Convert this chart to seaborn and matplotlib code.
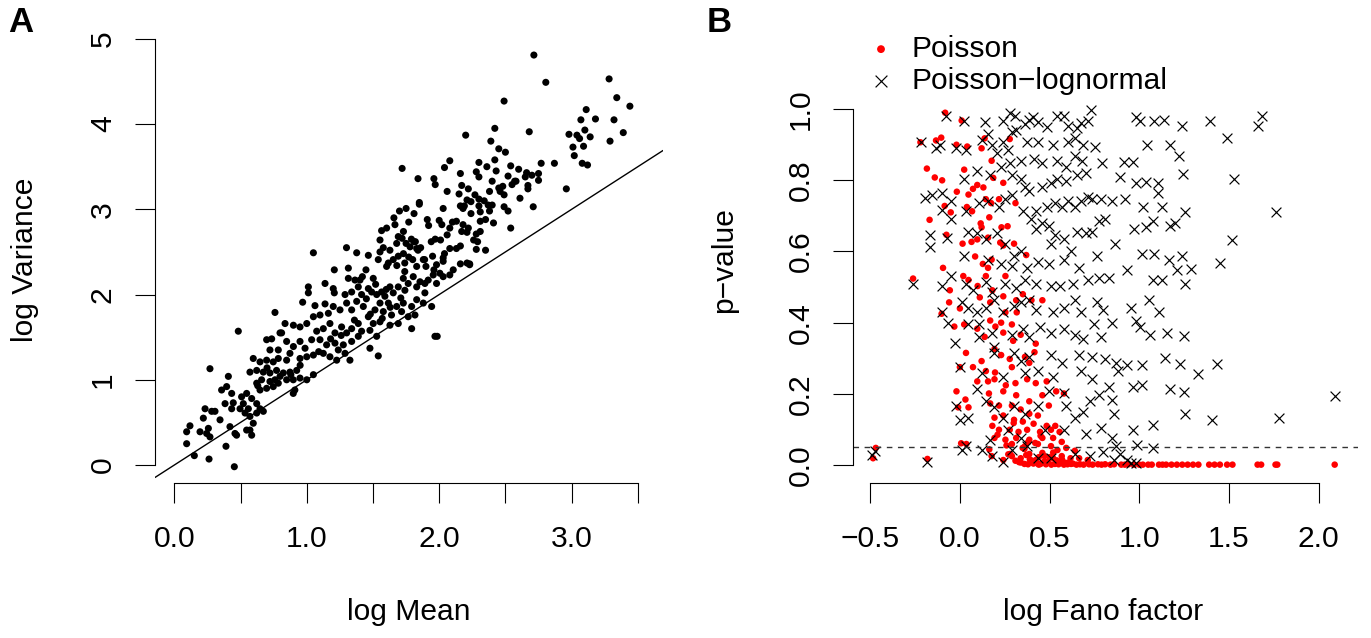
import numpy as np
import pandas as pd
import matplotlib
matplotlib.use("Agg")
import matplotlib.pyplot as plt
import seaborn as sns

# ---------------- Panel A data: log Mean vs log Variance ----------------
log_mean = [
 2.715,2.805,3.283,3.341,3.44,2.49,3.11,3.07,3.18,3.32,2.42,2.68,2.20,2.98,3.04,3.10,3.06,3.14,3.39,3.29,
 2.39,3.01,3.09,3.02,3.08,3.12,2.87,2.96,2.45,2.50,2.42,2.30,2.08,2.04,1.72,2.77,2.54,2.60,2.36,2.28,
 2.43,2.16,2.66,2.70,2.75,2.65,2.75,2.52,2.57,1.84,1.96,1.97,2.17,2.30,2.40,2.45,2.48,2.55,2.58,2.67,
 2.67,2.06,2.22,2.15,2.38,2.46,2.49,2.27,2.61,2.71,1.85,1.85,1.75,1.70,1.81,2.03,2.16,2.21,2.19,2.24,
 2.30,2.30,2.34,2.37,2.40,2.38,2.31,2.24,2.18,2.52,2.49,1.77,1.91,2.00,1.92,2.10,2.02,2.13,2.18,2.22,
 2.31,2.35,2.41,2.54,1.73,1.79,1.81,1.83,1.97,2.08,2.01,2.06,2.17,2.21,2.28,2.31,2.26,2.29,2.08,2.13,
 2.16,2.28,2.35,2.04,2.03,1.95,1.89,2.21,2.23,1.72,1.75,1.78,1.82,1.84,1.73,1.77,1.80,1.74,1.83,1.88,
 1.90,1.98,2.03,1.96,2.16,2.23,
 1.05,1.30,1.377,1.465,1.565,1.603,1.658,1.666,1.553,1.578,1.628,1.54,1.553,1.679,1.653,1.603,1.616,1.691,1.691,1.208,
 1.314,1.447,1.502,1.402,1.314,1.364,1.012,1.012,1.138,1.20,0.969,1.062,1.138,1.208,1.289,1.339,1.389,1.414,1.465,1.49,
 1.528,1.565,1.59,1.628,1.653,1.691,1.729,1.741,1.766,1.804,1.83,1.855,1.892,1.917,1.955,1.98,2.005,2.03,2.08,2.106,
 1.892,1.88,1.943,1.83,1.792,1.817,1.766,1.792,1.968,1.985,1.729,1.679,1.616,1.553,1.515,1.578,1.64,1.716,1.691,1.628,
 1.553,1.502,1.465,1.427,1.377,1.339,1.301,1.251,1.20,1.163,1.10,1.05,1.00,0.949,0.899,0.836,0.81,0.848,0.899,0.949,
 0.987,1.037,1.075,1.125,1.175,1.213,1.263,1.301,1.339,1.389,1.414,1.477,1.528,1.389,1.339,1.276,1.213,1.15,1.10,1.238,
 1.289,1.175,1.125,1.05,1.00,0.949,0.873,0.848,1.326,1.226,1.477,1.54,
 0.76,0.483,0.269,0.798,0.697,0.735,0.785,0.722,0.596,0.647,0.697,0.747,0.785,0.571,0.622,0.672,0.722,0.772,0.823,0.873,
 0.924,0.949,1.00,1.05,0.898,0.848,0.798,0.76,0.722,0.659,0.622,0.647,0.697,0.747,0.785,0.898,0.91,0.508,0.546,0.584,
 0.622,0.647,0.672,0.622,0.571,0.596,0.571,0.584,0.546,0.496,0.521,0.559,0.534,0.433,0.42,0.458,0.47,0.395,0.408,0.357,
 0.433,0.383,0.345,0.307,0.282,0.232,0.219,0.257,0.244,0.269,0.194,0.118,0.093,0.093,0.151,0.262,0.39,0.453,0.445,
 1.45,1.52,1.60,1.68,1.74,1.57,1.63,1.71,1.48,1.36,1.26,1.18,1.09,0.95,0.88,0.70,0.63,1.42,1.86,1.94,
]
log_var = [
 4.81,4.49,4.53,4.31,4.21,4.27,4.17,4.05,4.06,4.05,3.95,3.91,3.87,3.88,3.87,3.93,3.83,3.85,3.90,3.80,
 3.80,3.73,3.74,3.63,3.54,3.52,3.54,3.24,3.71,3.67,3.58,3.55,3.57,3.49,3.48,3.54,3.51,3.47,3.50,3.44,
 3.45,3.42,3.43,3.40,3.42,3.38,3.34,3.39,3.33,3.36,3.36,3.29,3.28,3.38,3.33,3.25,3.27,3.29,3.33,3.28,
 3.24,3.21,3.24,3.18,3.21,3.21,3.17,3.17,3.13,3.03,3.08,3.06,3.01,2.98,2.95,3.01,3.04,3.11,3.04,3.09,
 3.12,3.04,3.10,3.05,3.05,2.98,2.97,2.95,3.01,2.98,3.03,2.85,2.88,2.87,2.81,2.85,2.82,2.86,2.82,2.78,
 2.86,2.88,2.84,2.78,2.74,2.65,2.62,2.54,2.65,2.78,2.64,2.70,2.74,2.73,2.71,2.74,2.64,2.62,2.54,2.54,
 2.57,2.53,2.52,2.48,2.43,2.45,2.41,2.37,2.35,2.66,2.60,2.56,2.62,2.52,2.48,2.44,2.41,2.37,2.33,2.41,
 2.33,2.35,2.39,2.29,2.36,2.36,
 2.49,2.55,2.49,2.46,2.75,2.78,2.90,2.82,2.64,2.55,2.52,2.41,2.50,2.60,2.41,2.33,2.37,2.45,2.68,2.29,
 2.31,2.29,2.19,2.17,2.19,2.17,2.09,2.02,2.13,2.07,1.91,1.87,1.89,2.02,2.00,2.03,2.09,2.00,2.07,2.03,
 2.00,2.03,1.98,2.09,2.02,2.09,2.19,2.05,2.13,2.21,2.09,2.15,2.13,2.17,2.23,2.13,2.25,2.21,2.23,2.29,
 2.02,1.90,1.86,1.94,1.86,1.76,1.74,1.60,1.51,1.51,1.90,1.86,1.90,1.90,1.82,1.80,1.76,1.80,1.66,1.64,
 1.68,1.66,1.74,1.86,1.92,1.82,1.90,1.82,1.86,1.78,1.76,1.74,1.66,1.62,1.64,1.66,1.55,1.45,1.39,1.45,
 1.37,1.47,1.57,1.60,1.66,1.55,1.62,1.55,1.60,1.66,1.57,1.58,1.51,1.51,1.45,1.41,1.43,1.41,1.47,1.35,
 1.31,1.27,1.31,1.29,1.27,1.25,1.31,1.23,1.23,1.23,1.37,1.28,
 1.79,1.57,1.13,1.55,1.47,1.48,1.35,1.35,1.25,1.21,1.23,1.21,1.25,1.09,1.11,1.09,1.08,1.11,1.08,1.09,
 1.11,1.02,1.00,1.06,1.00,1.00,1.04,1.00,0.98,1.00,0.96,0.88,0.90,0.92,0.96,0.84,0.88,0.80,0.84,0.78,
 0.72,0.66,0.63,0.61,0.57,0.49,0.41,0.35,0.41,0.66,0.72,0.66,0.61,0.66,0.45,0.37,0.35,0.92,1.04,0.88,
 0.84,0.72,0.53,0.63,0.63,0.66,0.55,0.43,0.37,0.33,0.39,0.46,0.39,0.25,0.11,0.07,0.22,-0.02,0.73,
 1.95,2.12,2.06,2.34,2.27,1.72,1.85,1.96,1.77,1.70,1.52,1.48,1.33,1.17,1.06,1.14,0.93,2.21,2.55,2.62,
]

# ---------------- Panel B data: log Fano factor vs p-value ----------------
pois_fano = [
 -0.082,0.010,-0.22,-0.133,-0.104,-0.019,0.041,0.121,0.177,0.138,0.278,-0.184,-0.14,-0.099,0.024,-0.017,0.048,0.073,0.097,0.131,
 0.186,0.242,0.145,0.174,0.218,0.31,-0.085,-0.051,-0.169,0.039,0.068,0.116,0.164,0.121,0.232,0.266,-0.075,0.015,0.065,0.097,
 0.157,0.225,0.242,0.302,0.37,0.085,0.128,0.177,0.157,0.254,0.145,0.019,0.048,-0.094,-0.261,-0.056,0.099,0.181,0.242,0.314,
 0.351,0.399,0.46,-0.06,0.111,0.169,0.254,0.317,-0.102,0.0,0.169,0.198,0.23,0.29,-0.031,0.024,0.097,0.138,0.242,0.339,
 0.297,0.423,0.193,0.23,0.278,0.363,0.034,0.121,0.416,0.0,0.073,0.145,0.196,0.29,0.387,0.097,0.157,0.193,0.256,0.31,
 0.375,0.423,0.484,-0.019,0.031,0.162,0.242,0.314,0.387,0.46,0.537,0.58,-0.01,0.048,0.169,0.218,0.29,0.339,0.387,0.435,
 0.496,0.193,0.242,0.302,0.351,0.411,0.484,0.532,0.181,0.218,0.278,0.327,0.375,0.447,0.508,0.556,0.193,0.254,0.314,0.387,
 0.46,0.52,0.568,0.007,0.036,0.164,0.29,0.363,0.435,0.508,0.544,0.593,0.641,-0.484,-0.469,-0.181,0.177,0.242,0.29,0.339,
 0.387,0.423,0.472,0.52,0.568,0.617,0.665,0.713,0.33,0.47,0.56,0.27,0.40,0.61,0.52,0.44,0.36,0.58,
 0.36,0.38,0.41,0.44,0.45,0.48,0.51,0.53,0.55,0.58,0.60,0.62,0.65,0.67,0.69,0.72,0.74,0.77,0.79,0.81,
 0.84,0.86,0.90,0.92,0.94,0.97,1.00,1.02,1.05,1.07,1.11,1.13,1.15,1.18,1.21,1.24,1.27,1.30,1.33,1.39,
 1.42,1.45,1.49,1.52,1.66,1.68,1.76,1.77,2.09,
 0.31,0.34,0.39,0.43,0.49,0.54,0.59,0.63,0.28,0.37,0.46,0.50,0.26,0.35,0.42,0.57,0.21,0.30,0.38,0.45,
]
pois_p = [
 0.99,0.968,0.907,0.912,0.92,0.90,0.895,0.89,0.855,0.918,0.916,0.833,0.808,0.80,0.83,0.768,0.76,0.776,0.787,0.78,
 0.807,0.793,0.747,0.736,0.747,0.736,0.728,0.71,0.689,0.725,0.713,0.679,0.696,0.668,0.668,0.671,0.647,0.622,0.627,0.634,
 0.639,0.625,0.617,0.622,0.59,0.586,0.565,0.577,0.554,0.531,0.531,0.531,0.52,0.554,0.524,0.491,0.503,0.491,0.474,0.463,
 0.48,0.463,0.463,0.457,0.471,0.457,0.429,0.429,0.425,0.44,0.406,0.389,0.40,0.395,0.389,0.395,0.383,0.36,0.372,0.366,
 0.349,0.341,0.326,0.309,0.298,0.304,0.315,0.292,0.317,0.275,0.275,0.264,0.26,0.275,0.287,0.235,0.235,0.241,0.224,0.23,
 0.241,0.23,0.235,0.207,0.184,0.201,0.207,0.196,0.179,0.196,0.207,0.201,0.162,0.162,0.173,0.167,0.167,0.156,0.144,0.139,
 0.167,0.133,0.139,0.127,0.122,0.116,0.11,0.11,0.11,0.099,0.099,0.093,0.099,0.093,0.099,0.093,0.076,0.071,0.076,0.071,
 0.076,0.076,0.065,0.061,0.059,0.044,0.059,0.053,0.059,0.053,0.042,0.048,0.040,0.019,0.048,0.017,0.025,0.014,0.025,0.019,
 0.031,0.014,0.025,0.019,0.025,0.019,0.019,0.014,0.008,0.010,0.006,0.030,0.012,0.008,0.035,0.022,0.045,0.004,
 0.003,0.002,0.004,0.001,0.003,0.002,0.001,0.003,0.002,0.001,0.002,0.003,0.001,0.002,0.001,0.002,0.001,0.002,0.001,0.002,
 0.001,0.002,0.001,0.001,0.002,0.001,0.001,0.001,0.001,0.001,0.001,0.001,0.001,0.001,0.001,0.001,0.001,0.001,0.001,0.001,
 0.001,0.001,0.001,0.001,0.001,0.001,0.001,0.001,0.001,
 0.012,0.007,0.016,0.005,0.009,0.013,0.006,0.004,0.031,0.028,0.034,0.022,0.055,0.048,0.062,0.015,0.085,0.118,0.064,0.082,
]
pln_fano = [
 -0.08,0.024,0.138,0.242,0.278,0.31,0.363,0.387,0.406,0.435,0.484,0.544,0.58,0.605,0.653,0.677,0.713,0.73,0.98,1.004,
 1.081,1.137,1.238,1.395,1.487,1.664,1.686,
 -0.218,-0.133,-0.109,-0.024,0.036,0.121,0.157,0.181,0.242,0.206,0.29,0.314,0.375,0.435,0.52,0.605,0.641,0.689,0.755,1.045,
 1.173,1.221,0.271,0.278,0.339,0.411,0.46,0.544,0.593,0.641,0.682,0.793,0.914,0.967,1.243,
 -0.193,-0.157,-0.097,-0.048,0.024,0.097,0.169,0.23,0.29,0.339,0.363,0.387,0.46,0.508,0.544,0.593,0.653,0.701,0.895,0.98,
 1.04,1.106,1.106,1.528,-0.097,-0.048,0.036,0.109,0.157,0.218,0.254,0.29,0.351,0.423,0.484,0.532,0.568,0.605,0.641,0.677,
 0.713,0.737,0.785,0.846,0.919,1.02,1.126,1.258,1.76,
 -0.169,-0.164,-0.072,0.024,0.048,0.097,0.145,0.206,0.254,0.302,0.339,0.399,0.423,0.46,0.496,0.532,0.508,0.58,0.617,0.653,
 0.701,0.737,0.774,0.81,0.866,0.972,1.04,1.076,1.173,1.197,1.016,1.083,1.164,1.24,1.519,0.157,0.23,0.29,0.375,0.435,
 0.496,0.58,0.665,0.762,0.931,1.209,1.287,1.451,
 -0.261,-0.097,-0.048,0.036,0.073,0.145,0.181,0.254,0.314,0.363,0.423,0.508,0.556,0.629,0.713,0.774,0.829,1.076,1.126,1.258,
 -0.097,-0.068,0.012,0.048,0.097,0.145,0.193,0.242,0.302,0.339,0.387,0.423,0.52,0.58,0.641,0.677,0.762,0.798,0.955,1.052,
 1.112,0.98,0.846,
 -0.029,0.0,0.048,0.109,0.109,0.181,0.193,0.29,0.351,0.387,0.447,0.508,0.58,0.641,0.689,0.749,0.786,1.004,1.06,1.157,
 1.248,0.193,0.302,0.339,0.387,0.508,0.568,0.665,0.737,0.81,0.871,0.931,1.016,1.141,1.23,1.33,1.436,0.121,0.242,0.363,
 0.435,0.52,0.677,0.737,0.883,
 -0.024,0.0,0.048,0.097,0.145,0.193,0.242,0.302,0.363,0.435,0.496,0.58,0.593,0.641,0.689,0.725,0.774,0.834,0.846,0.858,
 0.967,1.016,1.173,1.248,1.258,1.407,1.778,2.092,1.076,
 -0.488,-0.472,-0.181,0.012,0.036,0.121,0.169,0.181,0.242,0.266,0.29,0.339,0.375,0.435,0.472,0.508,0.58,0.641,0.701,0.786,
 0.846,0.871,0.895,0.931,0.955,0.98,0.986,1.076,0.858,0.798,0.725,0.967,
]
pln_p = [
 0.98,0.967,0.964,0.966,0.989,0.981,0.958,0.969,0.977,0.964,0.949,0.981,0.981,0.952,0.947,0.961,0.966,0.998,0.977,0.966,
 0.966,0.969,0.954,0.967,0.92,0.952,0.981,
 0.907,0.89,0.90,0.89,0.884,0.912,0.93,0.90,0.907,0.878,0.935,0.941,0.907,0.907,0.90,0.907,0.918,0.90,0.893,0.90,
 0.898,0.867,0.884,0.85,0.855,0.861,0.85,0.855,0.838,0.867,0.855,0.85,0.852,0.852,0.819,
 0.751,0.759,0.765,0.742,0.804,0.827,0.816,0.838,0.816,0.804,0.782,0.77,0.782,0.793,0.804,0.799,0.816,0.821,0.81,0.793,
 0.795,0.793,0.765,0.804,0.716,0.691,0.713,0.736,0.742,0.725,0.747,0.759,0.713,0.713,0.725,0.736,0.725,0.742,0.725,0.742,
 0.753,0.747,0.747,0.742,0.747,0.725,0.725,0.711,0.71,
 0.647,0.614,0.639,0.588,0.656,0.651,0.634,0.651,0.622,0.588,0.60,0.691,0.662,0.679,0.673,0.645,0.622,0.634,0.60,0.656,
 0.651,0.656,0.685,0.691,0.622,0.662,0.668,0.685,0.673,0.679,0.594,0.594,0.577,0.588,0.631,0.577,0.565,0.56,0.554,0.571,
 0.565,0.577,0.554,0.588,0.548,0.548,0.552,0.568,
 0.509,0.503,0.531,0.509,0.491,0.514,0.486,0.509,0.497,0.52,0.509,0.503,0.503,0.509,0.52,0.526,0.526,0.52,0.52,0.509,
 0.429,0.40,0.457,0.44,0.429,0.44,0.463,0.429,0.446,0.457,0.463,0.435,0.429,0.44,0.463,0.429,0.457,0.435,0.44,0.463,
 0.429,0.406,0.40,
 0.344,0.275,0.395,0.395,0.36,0.372,0.332,0.366,0.383,0.36,0.389,0.372,0.383,0.366,0.355,0.395,0.36,0.389,0.366,0.372,
 0.363,0.315,0.315,0.292,0.304,0.309,0.287,0.309,0.304,0.298,0.287,0.281,0.281,0.30,0.283,0.256,0.284,0.258,0.247,0.258,
 0.264,0.247,0.264,0.241,0.264,
 0.167,0.127,0.133,0.213,0.179,0.162,0.133,0.167,0.144,0.167,0.207,0.201,0.167,0.133,0.15,0.179,0.196,0.218,0.184,0.144,
 0.218,0.224,0.213,0.204,0.142,0.127,0.133,0.193,0.113,
 0.028,0.04,0.008,0.042,0.053,0.042,0.071,0.025,0.008,0.099,0.042,0.076,0.053,0.019,0.099,0.019,0.099,0.031,0.088,0.105,
 0.076,0.053,0.031,0.014,0.005,0.005,0.056,0.048,0.014,0.036,0.025,0.097,
]

x_ticks_A = [0.0, 0.5, 1.0, 1.5, 2.0, 2.5, 3.0, 3.5]
x_labels_A = ["0.0", "", "1.0", "", "2.0", "", "3.0", ""]
y_ticks_A = [0, 1, 2, 3, 4, 5]
y_labels_A = ["0", "1", "2", "3", "4", "5"]
x_ticks_B = [-0.5, 0.0, 0.5, 1.0, 1.5, 2.0]
x_labels_B = ["\u22120.5", "0.0", "0.5", "1.0", "1.5", "2.0"]
y_ticks_B = [0.0, 0.2, 0.4, 0.6, 0.8, 1.0]
y_labels_B = ["0.0", "0.2", "0.4", "0.6", "0.8", "1.0"]
p_threshold = 0.05

dfA = pd.DataFrame({"mean": log_mean, "var": log_var})
dfP = pd.DataFrame({"fano": pois_fano, "p": pois_p})
dfL = pd.DataFrame({"fano": pln_fano, "p": pln_p})

# ---------------- figure ----------------
sns.set_theme(style="ticks")
plt.rcParams["font.family"] = ["Liberation Sans", "DejaVu Sans"]
plt.rcParams["axes.unicode_minus"] = True
for k in ("text.color", "axes.labelcolor", "xtick.color", "ytick.color", "axes.edgecolor"):
    plt.rcParams[k] = "black"

W, H = 1371, 638
fig = plt.figure(figsize=(W / 100, H / 100), dpi=100)
fig.patch.set_facecolor("white")

def box(l, r, t, b):
    return [l / W, 1 - b / H, (r - l) / W, (b - t) / H]

FS = 21.6

axA = fig.add_axes(box(155, 663, 38, 483))
axB = fig.add_axes(box(853, 1358, 38, 483))

# Panel A
sns.scatterplot(data=dfA, x="mean", y="var", ax=axA, color="black",
                s=26, linewidth=0, edgecolor="none", legend=False)
axA.axline((0, 0), slope=1, color="black", lw=1.0)
axA.set_xlim(-0.146, 3.69)
axA.set_ylim(-0.211, 5.01)
axA.set_xticks(x_ticks_A)
axA.set_xticklabels(x_labels_A)
axA.set_yticks(y_ticks_A)
axA.set_yticklabels(y_labels_A)
axA.spines["left"].set_bounds(0, 5)
axA.spines["bottom"].set_bounds(0, 3.5)

# Panel B
sns.scatterplot(data=dfP, x="fano", y="p", ax=axB, color="#ff0000",
                s=22, linewidth=0, edgecolor="none", label="Poisson")
sns.scatterplot(data=dfL, x="fano", y="p", ax=axB, color="black", marker="x",
                s=50, linewidth=0.85, label="Poisson\u2212lognormal")
axB.axhline(p_threshold, color="#333333", lw=1.0, ls=(0, (4, 4)))
axB.set_xlim(-0.596, 2.22)
axB.set_ylim(-0.0506, 1.20)
axB.set_xticks(x_ticks_B)
axB.set_xticklabels(x_labels_B)
axB.set_yticks(y_ticks_B)
axB.set_yticklabels(y_labels_B)
axB.spines["left"].set_bounds(0, 1)
axB.spines["bottom"].set_bounds(-0.5, 2.0)

for ax in (axA, axB):
    ax.set_xlabel("")
    ax.set_ylabel("")
    ax.grid(False)
    ax.set_facecolor("white")
    for s in ("top", "right"):
        ax.spines[s].set_visible(False)
    for s in ("left", "bottom"):
        ax.spines[s].set_color("black")
        ax.spines[s].set_linewidth(0.8)
    ax.tick_params(axis="both", direction="out", length=14.4, width=0.8,
                   color="black", labelsize=FS, labelcolor="black",
                   bottom=True, left=True)
    ax.tick_params(axis="x", pad=16)
    ax.tick_params(axis="y", pad=13, labelrotation=90)
    for lbl in ax.get_yticklabels():
        lbl.set_va("center")

handles, labels = axB.get_legend_handles_labels()
axB.legend(handles, labels, loc="upper left", bbox_to_anchor=(866 / W, 1 - 35 / H),
           bbox_transform=fig.transFigure, frameon=False, fontsize=FS,
           borderaxespad=0, borderpad=0, handlelength=1.0, handletextpad=0.5,
           labelspacing=0.12, markerscale=1.2)

# axis titles
fig.text(409 / W, 1 - 612 / H, "log Mean", ha="center", va="center", fontsize=FS)
fig.text(25 / W, 1 - 260 / H, "log Variance", ha="center", va="center", fontsize=FS, rotation=90)
fig.text(1103 / W, 1 - 612 / H, "log Fano factor", ha="center", va="center", fontsize=FS)
fig.text(724 / W, 1 - 260 / H, "p\u2212value", ha="center", va="center", fontsize=FS, rotation=90)

# panel letters
fig.text(21 / W, 1 - 23 / H, "A", ha="center", va="center", fontsize=25, fontweight="bold")
fig.text(719 / W, 1 - 23 / H, "B", ha="center", va="center", fontsize=25, fontweight="bold")

fig.savefig("out.png", dpi=100, facecolor="white")
